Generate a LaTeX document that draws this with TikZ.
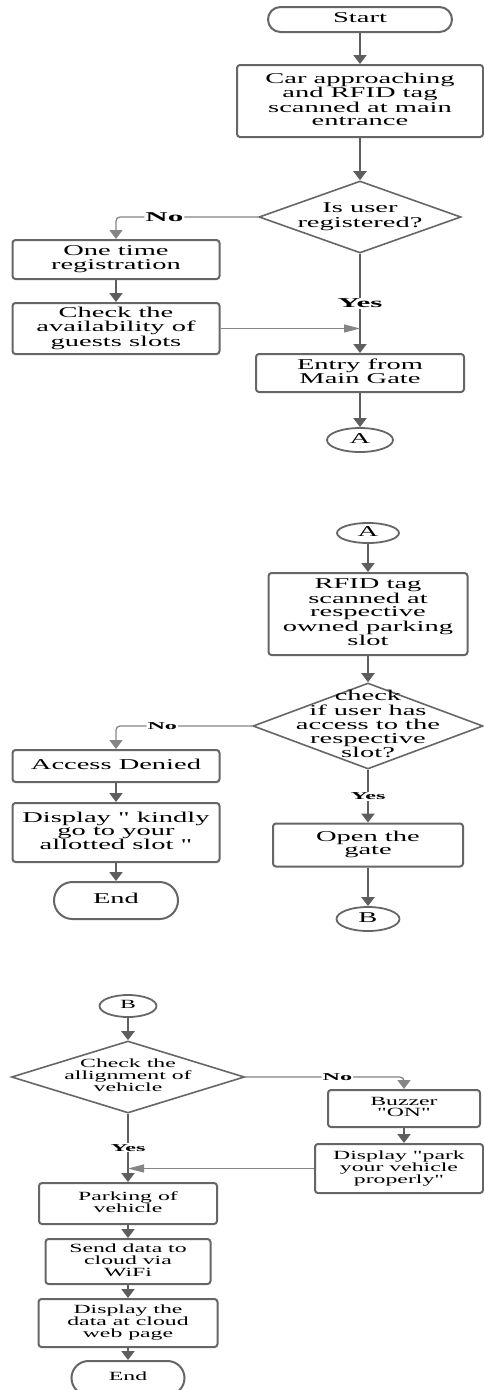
\documentclass[tikz,border=0pt]{standalone}
\usepackage{fontspec,graphicx}
\setmainfont{Liberation Serif}
\usetikzlibrary{arrows.meta,positioning,shapes.geometric,shapes.misc}
\definecolor{Bd}{HTML}{666666}
\definecolor{Ln}{HTML}{5E5E5E}
\definecolor{Lt}{HTML}{858585}
\tikzset{
  proc/.style={rectangle, rounded corners=3pt, draw=Bd, line width=2pt, fill=white, inner sep=0pt},
  term/.style={rounded rectangle, draw=Bd, line width=2pt, fill=white, inner sep=0pt},
  dec/.style={diamond, draw=Bd, line width=1.6pt, fill=white, inner sep=0pt},
  conn/.style={ellipse, draw=Bd, line width=1.8pt, fill=white, inner sep=0pt},
  arr/.style={-{Triangle[length=9pt,width=13pt]}, draw=Ln, fill=Ln, line width=2.2pt},
  side/.style={-{Triangle[length=9pt,width=13pt]}, draw=Lt, line width=1.3pt, rounded corners=4pt},
  merge/.style={-{Triangle[length=16pt,width=8pt]}, draw=Lt, line width=1.2pt},
  lbl/.style={fill=white, inner sep=1pt, font=\bfseries\fontsize{13.5}{13}\selectfont},
  lbs/.style={fill=white, inner sep=1pt, font=\bfseries\fontsize{10.5}{11}\selectfont},
  big/.style={font=\fontsize{15}{13}\selectfont},
  small/.style={font=\fontsize{12.5}{11.3}\selectfont},
}
% wide text, no size of its own
\newcommand{\fl}[2][1.9]{\smash{\makebox[0pt]{\raisebox{-.25em}{\scalebox{#1}[1]{\begin{tabular}{@{}c@{}}#2\end{tabular}}}}}}
\newcommand{\fw}[2][2.3]{\scalebox{#1}[1]{#2}}
\newcommand{\qt}{\textquotedbl}

\begin{document}
\begin{tikzpicture}[x=1pt, y=-1pt]
  \path[use as bounding box, fill=white] (0,0) rectangle (484,1390);
  % entrance
  \node[term, big, minimum width=184pt, minimum height=25pt] (start) at (360,19.5) {\fl{Start}};
  \node[proc, big, minimum width=246pt, minimum height=72pt] (car) at (360,101) {\fl{Car approaching\\and RFID tag\\scanned at main\\entrance}};
  \node[dec, big, minimum width=202pt, minimum height=72pt] (reg) at (360,217) {\fl{Is user\\registered?}};
  \node[proc, big, minimum width=207pt, minimum height=39pt] (once) at (116,259.5) {\fl{One time\\registration}};
  \node[proc, big, minimum width=207pt, minimum height=51pt] (guest) at (116,328.5) {\fl{Check the\\availability of\\guests slots}};
  \node[proc, big, minimum width=208pt, minimum height=38pt] (entry) at (360,373) {\fl{Entry from\\Main Gate}};
  \node[conn, big, minimum width=66pt, minimum height=24pt] (ca) at (360,440) {\fl{A}};
  \draw[arr] (start) -- (car);
  \draw[arr] (car) -- (reg);
  \draw[side] (reg.west) -| node[lbl, pos=0.33] {\fw{No}} (once);
  \draw[arr] (reg) -- node[lbl] {\fw{Yes}} (entry);
  \draw[arr] (once) -- (guest);
  \draw[merge] (guest.east) -- (guest.east -| reg.south);
  \draw[arr] (entry) -- (ca);
  % parking slot
  \node[conn, big, minimum width=62pt, minimum height=20pt] (ca2) at (368,533) {\fl{A}};
  \node[proc, big, minimum width=199pt, minimum height=82pt] (rfid) at (368,614) {\fl{RFID tag\\scanned at\\respective\\owned parking\\slot}};
  \node[dec, big, minimum width=230pt, minimum height=86pt] (acc) at (368,726) {\fl{check\\if user has\\access to the\\respective\\slot?}};
  \node[proc, big, minimum width=207pt, minimum height=32pt] (denied) at (116,766) {\fl{Access Denied}};
  \node[proc, big, minimum width=207pt, minimum height=59pt] (kindly) at (116,832.5) {\fl{Display \qt{} kindly\\go to your\\allotted slot \qt}};
  \node[term, big, minimum width=124pt, minimum height=37pt] (end1) at (116,900.5) {\fl{End}};
  \node[proc, big, minimum width=190pt, minimum height=43pt] (gate) at (368,845) {\fl{Open the\\gate}};
  \node[conn, big, minimum width=63pt, minimum height=24pt] (cb) at (368,919) {\fl{B}};
  \draw[arr] (ca2) -- (rfid);
  \draw[arr] (rfid) -- (acc);
  \draw[side] (acc.west) -| node[lbs, pos=0.33] {\fw{No}} (denied);
  \draw[arr] (acc) -- node[lbs] {\fw{Yes}} (gate);
  \draw[arr] (denied) -- (kindly);
  \draw[arr] (kindly) -- (end1);
  \draw[arr] (gate) -- (cb);
  % alignment
  \node[conn, small, minimum width=57pt, minimum height=22pt] (cb2) at (128,1006) {\fl{B}};
  \node[dec, small, minimum width=233pt, minimum height=72pt] (align) at (128,1077) {\fl{Check the\\allignment of\\vehicle}};
  \node[proc, small, minimum width=152pt, minimum height=37pt] (buzz) at (404,1108.5) {\fl{Buzzer\\\qt{}ON\qt}};
  \node[proc, small, minimum width=168pt, minimum height=49pt] (prop) at (399,1168.5) {\fl{Display \qt{}park\\your vehicle\\properly\qt}};
  \node[proc, small, minimum width=178pt, minimum height=41pt] (park) at (128,1203.5) {\fl{Parking of\\vehicle}};
  \node[proc, small, minimum width=165pt, minimum height=45pt] (send) at (128,1261.5) {\fl{Send data to\\cloud via\\WiFi}};
  \node[proc, small, minimum width=179pt, minimum height=48pt] (web) at (128,1323) {\fl{Display the\\data at cloud\\web page}};
  \node[term, small, minimum width=113pt, minimum height=34pt] (end2) at (128,1378) {\fl{End}};
  \draw[arr] (cb2) -- (align);
  \draw[side] (align.east) -| node[lbs, pos=0.29] {\fw{No}} (buzz);
  \draw[arr] (align) -- node[lbs] {\fw{Yes}} (park);
  \draw[arr] (buzz) -- (buzz |- prop.north);
  \draw[merge] (prop.west) -- (prop.west -| align.south);
  \draw[arr] (park) -- (send);
  \draw[arr] (send) -- (web);
  \draw[arr] (web) -- (end2);
\end{tikzpicture}
\end{document}
